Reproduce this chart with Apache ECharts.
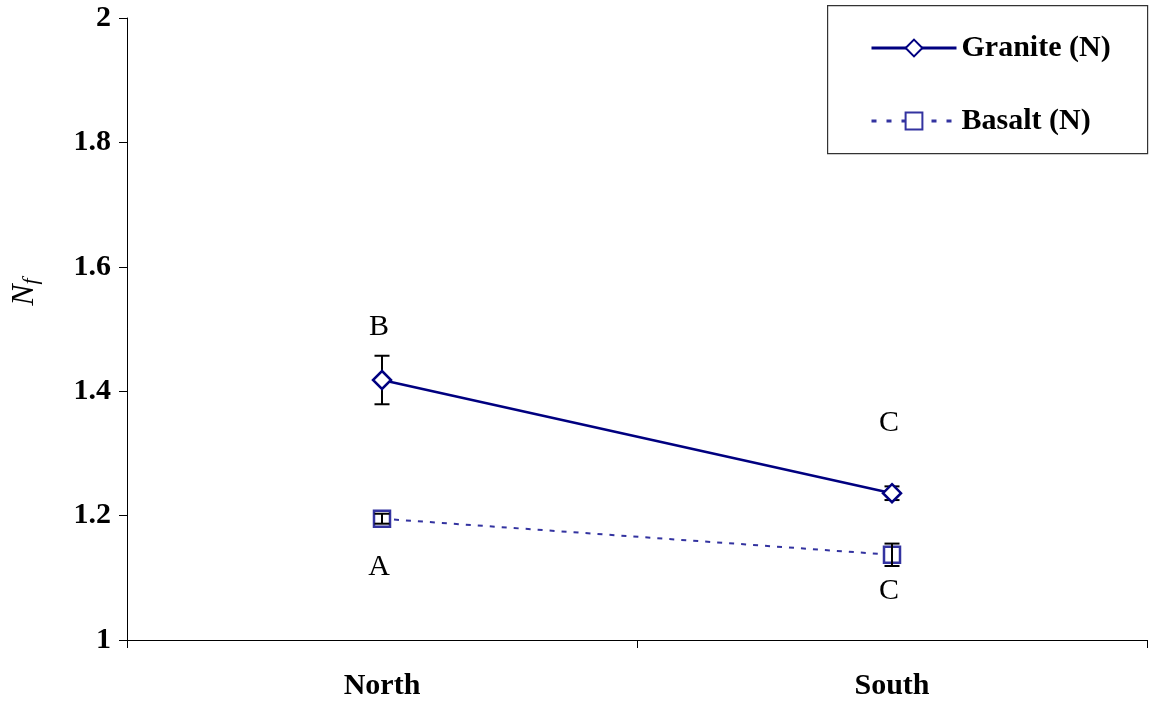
<!DOCTYPE html>
<html>
<head>
<meta charset="utf-8">
<script src="https://cdn.jsdelivr.net/npm/echarts@6/dist/echarts.min.js"></script>
<style>html,body{margin:0;padding:0;background:#fff}#c{width:1149px;height:706px}</style>
</head>
<body>
<div id="c"></div>
<script>
var categories = ['North', 'South'];
var seriesNames = ['Granite (N)', 'Basalt (N)'];
var graniteValues = [1.418, 1.236];
var graniteErr = [0.039, 0.011];
var basaltValues = [1.195, 1.137];
var basaltErr = [0.008, 0.018];
var graniteLetters = ['B', 'C'];
var graniteLetterY = [1.503, 1.349];
var basaltLetters = ['A', 'C'];
var basaltLetterY = [1.117, 1.079];
var yTicks = [1, 1.2, 1.4, 1.6, 1.8, 2];

var FONT = '"Liberation Serif", "Times New Roman", serif';
var GRANITE = '#000080';
var BASALT = '#3333A0';

function errData(vals, errs) {
  return vals.map(function (v, i) { return [i, v - errs[i], v + errs[i]]; });
}
function errSeries(vals, errs, z) {
  return {
    type: 'custom', z: z, silent: true,
    data: errData(vals, errs),
    encode: { x: 0, y: [1, 2] },
    renderItem: function (params, api) {
      var lo = api.coord([api.value(0), api.value(1)]);
      var hi = api.coord([api.value(0), api.value(2)]);
      var hw = 7.5;
      var st = { stroke: '#000', lineWidth: 2, fill: null };
      return { type: 'group', children: [
        { type: 'line', shape: { x1: lo[0], y1: lo[1], x2: hi[0], y2: hi[1] }, style: st },
        { type: 'line', shape: { x1: lo[0] - hw, y1: lo[1], x2: lo[0] + hw, y2: lo[1] }, style: st },
        { type: 'line', shape: { x1: hi[0] - hw, y1: hi[1], x2: hi[0] + hw, y2: hi[1] }, style: st }
      ]};
    }
  };
}
function letterSeries(letters, ys) {
  return {
    type: 'scatter', symbolSize: 1, silent: true, z: 6,
    itemStyle: { color: 'rgba(0,0,0,0)', opacity: 1 },
    data: ys.map(function (y, i) { return [i, y]; }),
    label: {
      show: true, position: 'inside', offset: [-3, 0],
      formatter: function (p) { return letters[p.dataIndex]; },
      fontFamily: FONT, fontSize: 30, color: '#000', opacity: 1, textBorderWidth: 0
    }
  };
}

var legendText = { fontFamily: FONT, fontWeight: 'bold', fontSize: 30, color: '#000', lineHeight: 30, padding: [0, 0, 0, 0] };

var chart = echarts.init(document.getElementById('c'), null, { renderer: 'canvas' });
chart.setOption({
  animation: false,
  backgroundColor: '#fff',
  grid: { left: 127, right: 2, top: 18, bottom: 66, containLabel: false },
  xAxis: {
    type: 'category', data: categories, boundaryGap: true,
    axisLine: { lineStyle: { color: '#000', width: 1 } },
    axisTick: { show: true, length: 8, lineStyle: { color: '#000' } },
    axisLabel: { fontFamily: FONT, fontWeight: 'bold', fontSize: 30, color: '#000', margin: 31 },
    splitLine: { show: false }
  },
  yAxis: {
    type: 'value', min: 1, max: 2, interval: 0.2,
    axisLine: { show: true, lineStyle: { color: '#000', width: 1 } },
    axisTick: { show: true, length: 8, lineStyle: { color: '#000' } },
    axisLabel: {
      fontFamily: FONT, fontWeight: 'bold', fontSize: 30, color: '#000', margin: 16,
      formatter: function (v) { return String(+v.toFixed(1)); }
    },
    splitLine: { show: false }
  },
  legend: [
    { data: [seriesNames[0]], left: 865, top: 28, itemWidth: 85, itemHeight: 21, itemGap: 0, selectedMode: false,
      lineStyle: { width: 3 }, textStyle: legendText },
    { data: [seriesNames[1]], left: 865, top: 101, itemWidth: 85, itemHeight: 21, itemGap: 0, selectedMode: false,
      lineStyle: { width: 3, type: [5, 10] }, textStyle: legendText }
  ],
  graphic: [
    { type: 'rect', left: 827, top: 5, z: 0, shape: { width: 320, height: 148 },
      style: { fill: '#fff', stroke: '#333', lineWidth: 1.2 } },
    { type: 'text', x: 25, y: 292, rotation: Math.PI / 2, z: 10,
      style: { text: '{n|N}{f|f}', align: 'center', verticalAlign: 'middle',
        rich: {
          n: { fontFamily: FONT, fontStyle: 'italic', fontSize: 32, fill: '#000' },
          f: { fontFamily: FONT, fontStyle: 'italic', fontSize: 22, fill: '#000', padding: [12, 0, 0, 0] }
        } } }
  ],
  series: [
    {
      name: seriesNames[1], type: 'line', data: basaltValues, z: 2,
      symbol: 'rect', symbolSize: 16, showSymbol: true,
      lineStyle: { color: BASALT, width: 2, type: [5, 7] },
      itemStyle: { color: '#fff', borderColor: BASALT, borderWidth: 2.5 }
    },
    errSeries(basaltValues, basaltErr, 3),
    errSeries(graniteValues, graniteErr, 4),
    {
      name: seriesNames[0], type: 'line', data: graniteValues, z: 5,
      symbol: 'diamond', symbolSize: [18, 18], showSymbol: true,
      lineStyle: { color: GRANITE, width: 2.5 },
      itemStyle: { color: '#fff', borderColor: GRANITE, borderWidth: 2.5 }
    },
    letterSeries(graniteLetters, graniteLetterY),
    letterSeries(basaltLetters, basaltLetterY)
  ]
});
</script>
</body>
</html>
